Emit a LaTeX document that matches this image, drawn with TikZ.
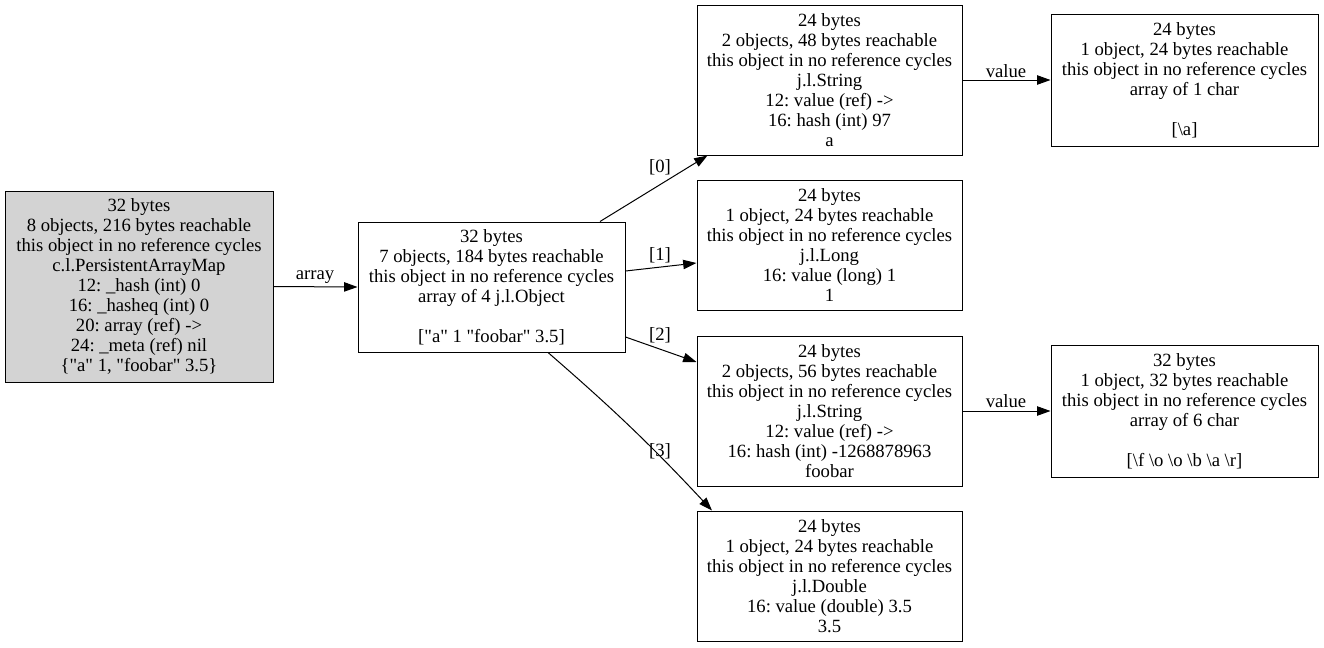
\documentclass[tikz,border=0pt]{standalone}
\usepackage{fontspec}
\setmainfont{Liberation Serif}[Ligatures=TeXOff]
\usetikzlibrary{arrows.meta,calc}
\frenchspacing
\begin{document}
\begin{tikzpicture}[x=0.75pt,y=-0.75pt,
  every node/.style={font=\fontsize{14}{15}\selectfont},
  box/.style 2 args={draw, line width=0.75pt, align=center, inner sep=0pt,
    minimum width=#1*0.75pt, minimum height=#2*0.75pt},
  edge/.style={draw, line width=0.75pt, -{Triangle[length=10pt,width=7pt]}},
  lbl/.style={inner sep=0pt}]
\useasboundingbox (0,0) rectangle (1324,647);

\node[box={268}{191}, fill={rgb,255:red,211;green,211;blue,211}] (A) at (139,286.5)
  {32 bytes\\8 objects, 216 bytes reachable\\this object in no reference cycles\\c.l.PersistentArrayMap\\12: \_hash (int) 0\\16: \_hasheq (int) 0\\20: array (ref) ->\\24: \_meta (ref) nil\\\{"a" 1, "foobar" 3.5\}};

\node[box={267}{130}] (B) at (491.5,287)
  {32 bytes\\7 objects, 184 bytes reachable\\this object in no reference cycles\\array of 4 j.l.Object\\[15pt]["a" 1 "foobar" 3.5]};

\node[box={265}{150}] (C) at (829.5,80)
  {24 bytes\\2 objects, 48 bytes reachable\\this object in no reference cycles\\j.l.String\\12: value (ref) ->\\16: hash (int) 97\\a};

\node[box={267}{132}] (D) at (1184.5,80)
  {24 bytes\\1 object, 24 bytes reachable\\this object in no reference cycles\\array of 1 char\\[15pt][\textbackslash a]};

\node[box={265}{130}] (E) at (829.5,245)
  {24 bytes\\1 object, 24 bytes reachable\\this object in no reference cycles\\j.l.Long\\16: value (long) 1\\1};

\node[box={265}{150}] (F) at (829.5,411)
  {24 bytes\\2 objects, 56 bytes reachable\\this object in no reference cycles\\j.l.String\\12: value (ref) ->\\16: hash (int) -1268878963\\foobar};

\node[box={267}{132}] (G) at (1184.5,411)
  {32 bytes\\1 object, 32 bytes reachable\\this object in no reference cycles\\array of 6 char\\[15pt][\textbackslash f \textbackslash o \textbackslash o \textbackslash b \textbackslash a \textbackslash r]};

\node[box={265}{130}] (H) at (829.5,576)
  {24 bytes\\1 object, 24 bytes reachable\\this object in no reference cycles\\j.l.Double\\16: value (double) 3.5\\3.5};

\draw[edge] (A.east) -- (B.west);
\draw[edge] ($(B.north)+(108.5,0)$) -- ($(C.south)+(-122,0)$);
\draw[edge] ($(B.east)+(0,-16)$) -- ($(E.west)+(0,18)$);
\draw[edge] ($(B.east)+(0,50)$) -- ($(F.west)+(0,-49)$);
\draw[edge] ($(B.south)+(56.5,0)$) to[bend left=3] ($(H.north)+(-117.5,0)$);
\draw[edge] (C.east) -- (D.west);
\draw[edge] (F.east) -- (G.west);

\node[lbl] (la) at (315,277) {array};
\node[lbl] (l0) at (660,167) {[0]};
\node[lbl] (l1) at (660,255) {[1]};
\node[lbl] (l2) at (660,335) {[2]};
\node[lbl] (l3) at (660,451) {[3]};
\node[lbl] (lv1) at (1006,71) {value};
\node[lbl] (lv2) at (1006,401) {value};
\end{tikzpicture}
\end{document}
